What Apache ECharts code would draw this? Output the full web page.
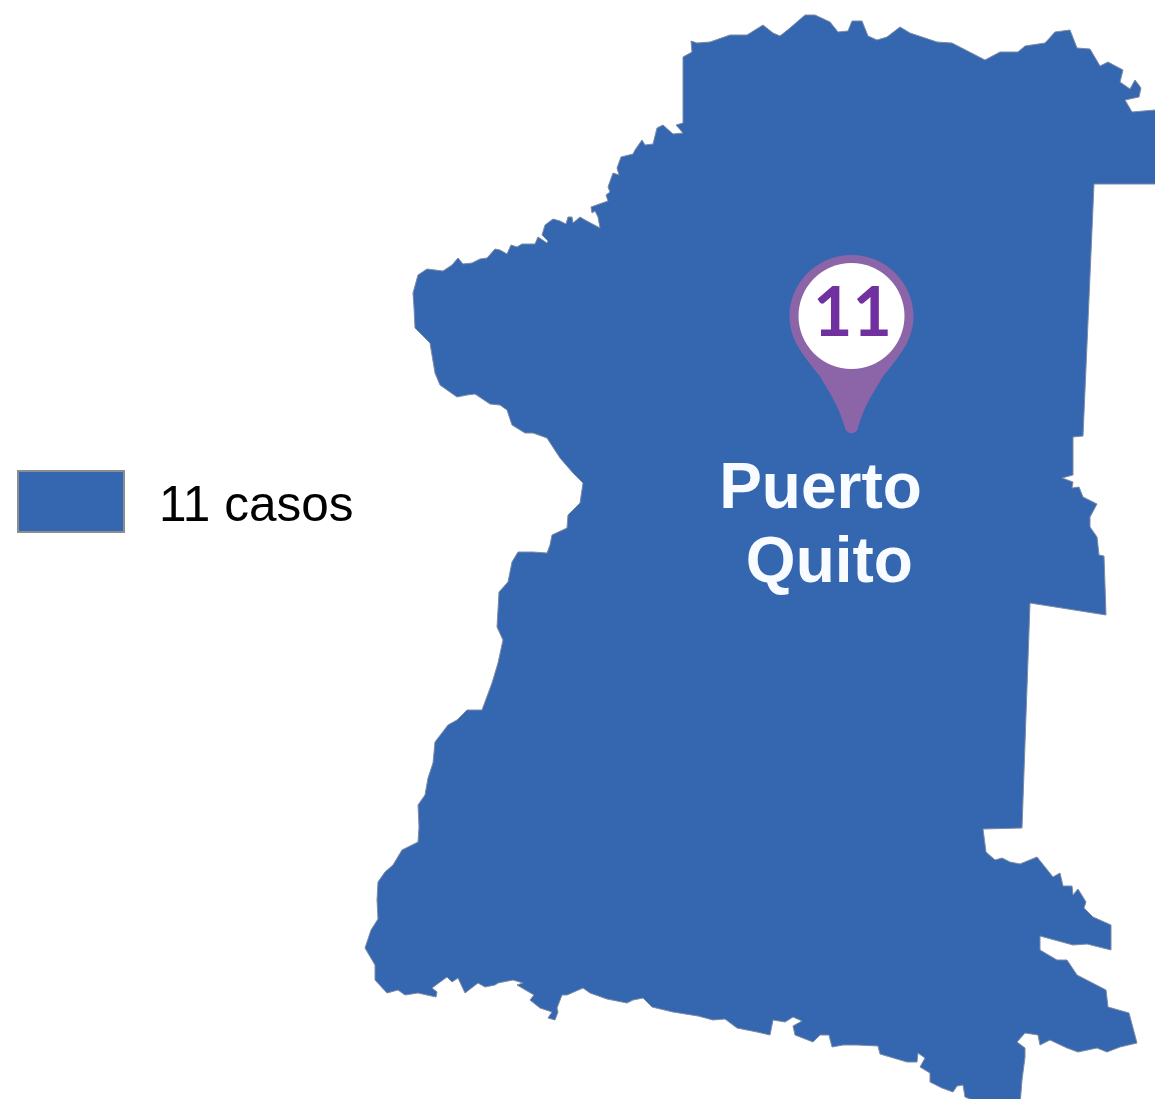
<!DOCTYPE html>
<html>
<head>
<meta charset="utf-8">
<title>Puerto Quito</title>
<script src="https://cdn.jsdelivr.net/npm/echarts@6/dist/echarts.min.js"></script>
<style>
html,body{margin:0;padding:0;background:#fff;}
#chart{width:1155px;height:1099px;}
</style>
</head>
<body>
<div id="chart"></div>
<script>
var canton = ['Puerto Quito']
var cantonLabel = ['Puerto\n Quito']
var casos = [11]
var legendLabels = ['11 casos']
// contorno del canton (x, y desde arriba)
var northEdge = [[418,275],[427,269],[443,271],[452,265],[458,258],[463,264],[472,263],[480,259],[487,258],[495,249],[500,250],[507,254],[511,245],[517,247],[522,244],[535,244],[538,237],[547,243],[548,241],[542,235],[545,225],[553,219],[560,221],[566,224],[568,217],[572,217],[573,223],[580,217],[585,220],[600,228],[598,217],[595,211],[592,213],[591,207],[608,201],[606,195],[610,192],[608,187],[613,173],[619,175],[617,168],[621,157],[633,154],[635,150],[642,140],[645,145],[653,144],[657,128],[663,125],[673,134],[683,133],[676,125],[683,123],[683,57],[692,52],[691,41],[697,43],[710,42],[730,35],[747,35],[763,25],[773,33],[780,36],[790,28],[805,15],[815,15],[830,22],[838,32],[848,31],[852,21],[862,21],[868,36],[877,40],[887,37],[900,27],[910,33],[937,42],[952,43],[985,60],[1000,52],[1018,52],[1025,46],[1045,43],[1055,32],[1070,30],[1077,48],[1090,49],[1100,66],[1108,62],[1123,70],[1120,82],[1130,89],[1135,80],[1141,88],[1139,97],[1125,100],[1132,112],[1155,110],[1165,110]]
var eastEdge = [[1165,184],[1094,184],[1083,436],[1073,437],[1073,475],[1062,478],[1073,482],[1072,488],[1079,487],[1083,497],[1097,504],[1090,517],[1090,527],[1097,537],[1099,555],[1104,556],[1106,615],[1030,603],[1022,828],[983,829],[986,852],[995,860],[1002,858],[1010,862],[1020,864],[1037,857],[1053,877],[1060,873],[1063,886],[1072,886],[1073,895],[1078,889],[1086,902],[1084,908],[1093,917],[1111,925],[1111,950],[1087,944],[1073,945],[1040,936],[1040,950],[1057,960],[1067,960],[1077,975],[1106,990],[1108,1007],[1129,1013],[1137,1043],[1120,1047],[1107,1052],[1097,1048],[1078,1052],[1067,1048],[1050,1040],[1040,1045],[1038,1035],[1025,1033],[1017,1042],[1025,1048],[1025,1057],[1022,1080],[1020,1105]]
var southEdge = [[985,1105],[965,1097],[963,1085],[957,1086],[953,1092],[942,1088],[930,1082],[930,1073],[920,1067],[925,1058],[918,1053],[917,1062],[907,1062],[880,1054],[878,1046],[857,1045],[843,1045],[832,1047],[829,1035],[820,1035],[813,1042],[795,1035],[793,1026],[802,1021],[793,1017],[785,1022],[773,1020],[770,1035],[757,1032],[737,1028],[725,1019],[713,1020],[698,1016],[673,1012],[652,1007],[643,998],[633,1000],[627,1003],[607,999],[590,993],[583,988],[567,995],[562,995],[557,1008],[558,1012],[555,1020],[548,1018],[552,1012],[540,1008],[530,1000],[534,995],[517,985],[523,983],[513,980],[498,983],[495,985],[485,987],[478,983],[465,993],[458,978],[452,982],[447,977],[432,988],[437,992],[436,997],[418,993],[405,995],[398,990],[387,993],[375,980],[375,965],[365,948]]
var westEdge = [[371,930],[378,919],[377,900],[378,882],[385,872],[393,865],[402,850],[418,842],[419,827],[418,805],[425,795],[428,778],[433,763],[435,742],[448,725],[457,720],[467,710],[482,710],[492,683],[498,663],[503,640],[497,627],[499,592],[508,582],[512,562],[518,552],[533,552],[547,553],[550,545],[552,535],[567,528],[568,515],[580,503],[583,483],[573,473],[560,458],[547,438],[533,433],[525,433],[512,425],[507,410],[500,405],[490,404],[475,394],[467,395],[457,397],[440,385],[435,373],[430,343],[415,328],[414,308],[413,293]]
var pinAt = [851.5, 344]
var circleAt = [851.5, 316]
var nameAt = [820.5, 527]

var H = 1099
function geo(p){ return [p[0], H - p[1]] }

var ring = northEdge.concat(eastEdge, southEdge, westEdge, [northEdge[0]]).map(geo)
echarts.registerMap('puertoQuito', {
    type: 'FeatureCollection',
    features: [{
        type: 'Feature',
        properties: { name: canton[0] },
        geometry: { type: 'Polygon', coordinates: [ring] }
    }]
})

var chart = echarts.init(document.getElementById('chart'))
var option = {
    backgroundColor: '#ffffff',
    animation: false,
    legend: {
        left: 17,
        top: 470,
        padding: 0,
        itemWidth: 106,
        itemHeight: 61,
        selectedMode: false,
        data: [{
            name: legendLabels[0],
            icon: 'rect',
            itemStyle: { color: '#3566b0', borderColor: '#8b8d92', borderWidth: 2 }
        }],
        formatter: '{a|{name}}',
        textStyle: {
            rich: {
                a: {
                    fontFamily: 'Liberation Sans',
                    fontSize: 49.5,
                    color: '#000000',
                    padding: [12, 0, 0, 30]
                }
            }
        }
    },
    geo: {
        map: 'puertoQuito',
        aspectScale: 1,
        boundingCoords: [[0, H], [1155, 0]],
        left: 0,
        top: 0,
        width: 1155,
        height: H,
        silent: true,
        label: { show: false },
        itemStyle: { areaColor: '#3566b0', borderColor: '#7d8ba6', borderWidth: 1, borderJoin: 'round' }
    },
    series: [
        {
            // alfiler morado
            name: legendLabels[0],
            type: 'scatter',
            coordinateSystem: 'geo',
            silent: true,
            symbol: 'path://M62 0C27.8 0 0 27.6 0 61.5C0 72 3 81 7 89C13 100 22 111 31 122C37 134 47 145 55 171C56 176 58 178 62 178C66 178 68 176 69 171C77 145 87 134 93 122C102 111 111 100 117 89C121 81 124 72 124 61.5C124 27.6 96.2 0 62 0Z',
            symbolSize: [124, 178],
            itemStyle: { color: '#8c64a8', opacity: 1 },
            z: 3,
            data: [geo(pinAt)]
        },
        {
            name: 'numero',
            type: 'scatter',
            coordinateSystem: 'geo',
            silent: true,
            symbol: 'circle',
            symbolSize: 106,
            itemStyle: { color: '#ffffff', opacity: 1 },
            label: {
                show: true,
                position: 'inside',
                offset: [1, -2],
                formatter: function (p) { return p.value[2] },
                fontFamily: 'Lato',
                fontWeight: 'bold',
                fontSize: 68,
                color: '#7030a0'
            },
            z: 4,
            data: [geo(circleAt).concat(casos[0])]
        },
        {
            name: 'nombre',
            type: 'scatter',
            coordinateSystem: 'geo',
            silent: true,
            symbolSize: 0,
            itemStyle: { opacity: 1 },
            label: {
                show: true,
                position: 'inside',
                formatter: function () { return cantonLabel[0] },
                fontFamily: 'Liberation Sans',
                fontWeight: 'bold',
                fontSize: 64,
                lineHeight: 74,
                color: '#f8fbff',
                opacity: 1
            },
            z: 4,
            data: [geo(nameAt)]
        }
    ]
}
chart.setOption(option)
</script>
</body>
</html>
